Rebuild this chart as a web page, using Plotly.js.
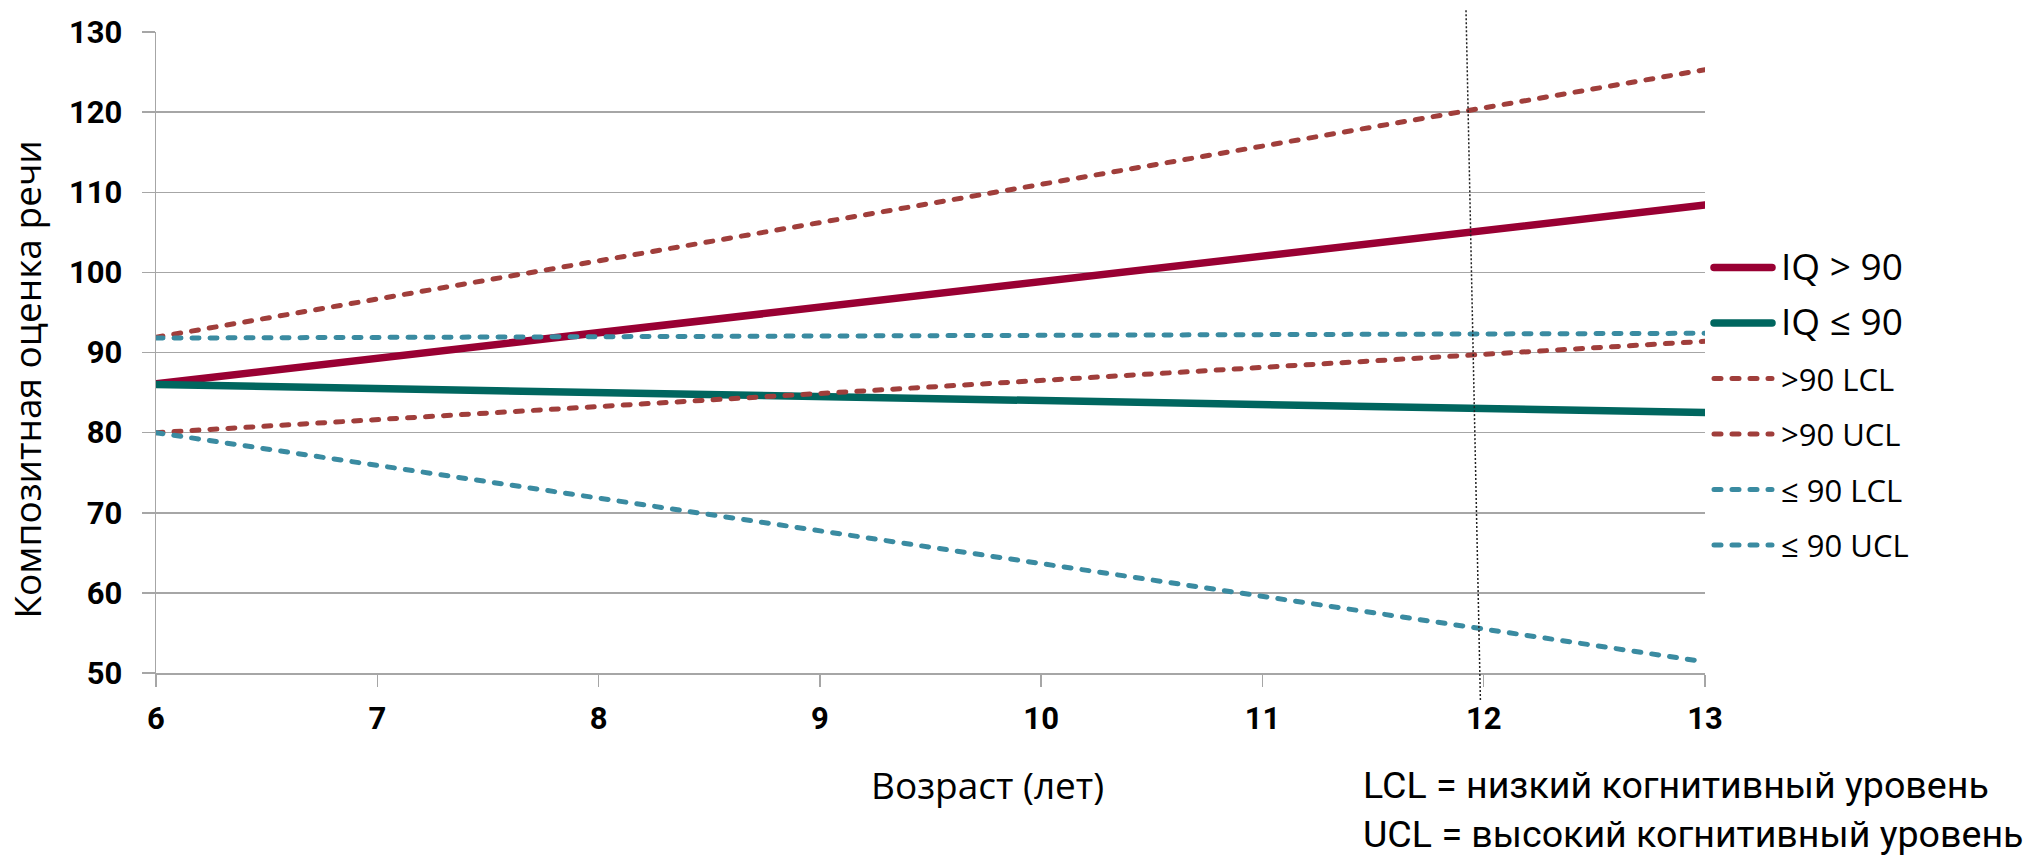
<!DOCTYPE html>
<html>
<head>
<meta charset="utf-8">
<script src="https://cdn.plot.ly/plotly-3.0.1.min.js"></script>
<style>
  html, body { margin: 0; padding: 0; background: #ffffff; }
  #chart { width: 2028px; height: 855px; }
  .js-line { stroke-linecap: round; }
</style>
</head>
<body>
<div id="chart"></div>
<script>
// ---- data ----
const ages = [6, 13];
const iqAbove90 = [86.1, 108.4];
const iqAtMost90 = [86.0, 82.5];
const above90LCL = [80.0, 91.4];
const above90UCL = [91.9, 125.3];
const atMost90LCL = [80.0, 51.4];
const atMost90UCL = [91.8, 92.4];
const seriesNames = ['IQ &gt; 90', 'IQ ≤ 90', '&gt;90 LCL', '&gt;90 UCL', '≤ 90 LCL', '≤ 90 UCL'];
const xTickVals = [6, 7, 8, 9, 10, 11, 12, 13];
const yTickVals = [50, 60, 70, 80, 90, 100, 110, 120, 130];
const cutoffLineAge = [11.92, 11.985];   // dotted marker line near age 12 (top, bottom)
const xTitle = 'Возраст (лет)';
const yTitle = 'Композитная оценка речи';
const noteLines = ['LCL = низкий когнитивный уровень', 'UCL = высокий когнитивный уровень'];

// ---- styles ----
const C_RED = '#990033', C_TEAL = '#00665f', C_RED_D = '#a03e3b', C_BLUE_D = '#3a8ba1';
const DASH = '7px,11px';

function tr(y, name, color, width, dash, idx, big) {
  return {
    x: ages, y: y, type: 'scatter', mode: 'lines',
    name: big ? '<span style="font-size:37px">' + name + '</span>' : name,
    legendgroup: 'g' + idx,
    line: { color: color, width: width, dash: dash },
    hoverinfo: 'skip'
  };
}

const traces = [
  tr(iqAbove90, seriesNames[0], C_RED, 7.5, 'solid', 0, true),
  tr(iqAtMost90, seriesNames[1], C_TEAL, 7.5, 'solid', 1, true),
  tr(above90LCL, seriesNames[2], C_RED_D, 5, DASH, 2, false),
  tr(above90UCL, seriesNames[3], C_RED_D, 5, DASH, 3, false),
  tr(atMost90LCL, seriesNames[4], C_BLUE_D, 5, DASH, 4, false),
  tr(atMost90UCL, seriesNames[5], C_BLUE_D, 5, DASH, 5, false)
];

const GRID = '#a6a6a6';
const tickFont = { family: 'Roboto, Arial, sans-serif', size: 31, color: '#000000', weight: 700 };

const layout = {
  width: 2028, height: 855,
  margin: { l: 156, r: 323, t: 32, b: 182, pad: 0 },
  paper_bgcolor: '#ffffff', plot_bgcolor: '#ffffff',
  showlegend: true,
  xaxis: {
    range: [6, 13], tickmode: 'array', tickvals: xTickVals,
    ticks: 'outside', ticklen: 12, tickwidth: 1.5, tickcolor: GRID,
    showgrid: false, zeroline: false,
    showline: true, linecolor: GRID, linewidth: 1.5,
    tickfont: tickFont, ticklabelstandoff: 5
  },
  yaxis: {
    range: [50, 130], tickmode: 'array', tickvals: yTickVals,
    ticks: 'outside', ticklen: 13, tickwidth: 1.5, tickcolor: GRID,
    showgrid: true, gridcolor: GRID, gridwidth: 1.5, zeroline: false,
    showline: true, linecolor: GRID, linewidth: 1.5,
    tickfont: tickFont, ticklabelstandoff: 13
  },
  legend: {
    x: 1.0, xanchor: 'left', y: 0.674, yanchor: 'top',
    font: { family: 'Open Sans, sans-serif', size: 31, color: '#000000' },
    itemwidth: 66, tracegroupgap: 12.2,
    bgcolor: 'rgba(0,0,0,0)', borderwidth: 0, traceorder: 'grouped'
  },
  shapes: [{
    type: 'line', xref: 'x', yref: 'paper',
    x0: cutoffLineAge[0], y0: 1.034, x1: cutoffLineAge[1], y1: -0.042,
    line: { color: '#222222', width: 1.5, dash: '2px,2px' }, layer: 'above'
  }],
  annotations: [
    {
      text: xTitle, xref: 'paper', yref: 'paper', x: 0.5371, y: -0.1747,
      xanchor: 'center', yanchor: 'middle', showarrow: false,
      font: { family: 'Open Sans, sans-serif', size: 37, color: '#000000' }
    },
    {
      text: yTitle, xref: 'paper', yref: 'paper', x: -0.0833, y: 0.4579,
      xanchor: 'center', yanchor: 'middle', showarrow: false, textangle: -90,
      font: { family: 'Open Sans, sans-serif', size: 37, color: '#000000' }
    },
    {
      text: noteLines.join('<br>'), xref: 'paper', yref: 'paper', x: 0.7779, y: -0.1373,
      xanchor: 'left', yanchor: 'top', align: 'left', showarrow: false,
      font: { family: 'Roboto, Arial, sans-serif', size: 37.6, color: '#000000' }
    }
  ]
};

Plotly.newPlot('chart', traces, layout, { staticPlot: true, displayModeBar: false }).then(function (gd) {
  gd.querySelectorAll('.legend .traces path.js-line').forEach(function (p) {
    p.setAttribute('d', 'M9,0h58');
  });
});
</script>
</body>
</html>
